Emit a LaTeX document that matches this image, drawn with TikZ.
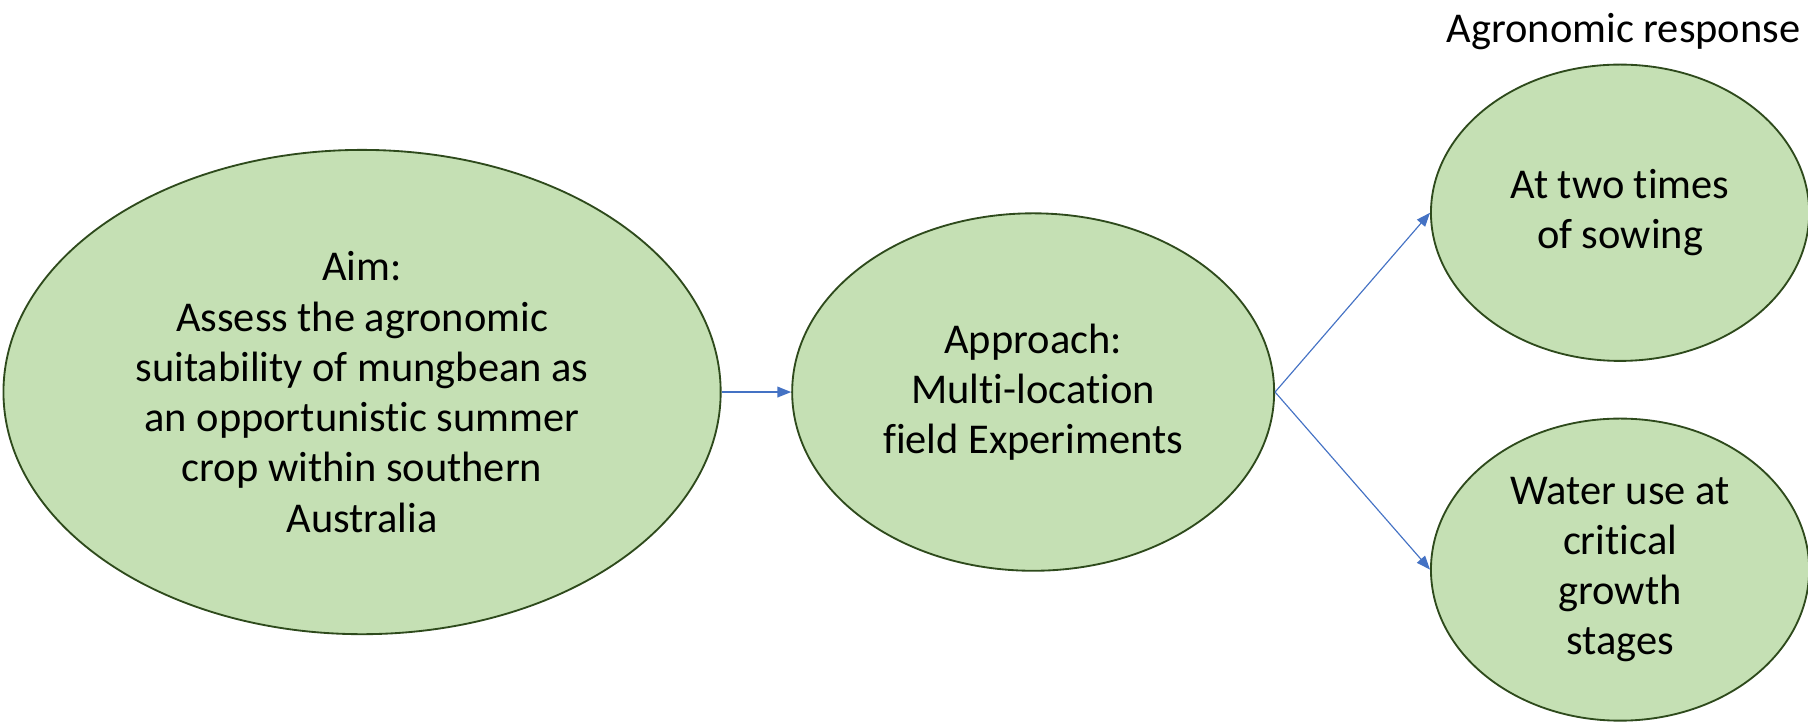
\documentclass[tikz,border=0pt]{standalone}
\usepackage{fontspec}
\setmainfont{Carlito}[Ligatures=NoCommon]
\usetikzlibrary{shapes.geometric,arrows.meta}
\definecolor{fillgreen}{HTML}{C5E0B4}
\definecolor{edgegreen}{HTML}{2E4A1C}
\definecolor{arrowblue}{HTML}{4472C4}
\begin{document}
\begin{tikzpicture}[x=0.5pt,y=-0.5pt,
  bubble/.style={ellipse,draw=edgegreen,fill=fillgreen,line width=0.8pt,inner sep=0pt,
    align=center,font=\fontsize{18.4}{21.8}\selectfont},
  link/.style={draw=arrowblue,line width=0.5pt,-{Triangle[length=6pt,width=4.6pt]}}]
\useasboundingbox (0,0) rectangle (1568,626.2);
\node[bubble,minimum width=311pt,minimum height=210pt] (aim) at (314,340)
  {Aim:\\Assess the agronomic\\suitability of mungbean as\\an opportunistic summer\\crop within southern\\Australia};
\node[bubble,minimum width=209pt,minimum height=155pt] (app) at (896,340)
  {Approach:\\Multi-location\\field Experiments};
\node[bubble,minimum width=164pt,minimum height=128.5pt] (tos) at (1405,184.5)
  {At two times\\of sowing};
\node[bubble,minimum width=164pt,minimum height=131pt] (wu) at (1405,494)
  {Water use at\\critical\\growth\\stages};
\node[font=\fontsize{18.4}{21.8}\selectfont,anchor=center] (resp) at (1408,27) {Agronomic response};
\draw[link,line width=0.75pt] (aim.east) -- (app.west);
\draw[link] (app.east) -- (tos.west);
\draw[link] (app.east) -- (wu.west);
\end{tikzpicture}
\end{document}
